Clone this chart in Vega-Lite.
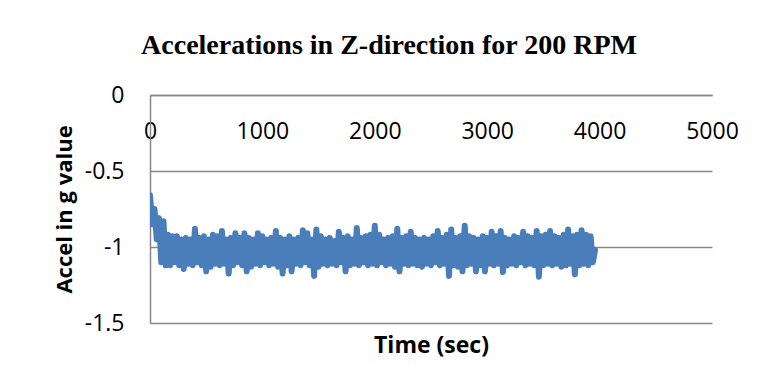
{
  "$schema": "https://vega.github.io/schema/vega-lite/v6.json",
  "width": 562,
  "height": 228,
  "autosize": "none",
  "padding": {"left": 150, "top": 95, "right": 46, "bottom": 66},
  "background": "white",
  "config": {"view": {"stroke": null}},
  "title": {
    "text": "Accelerations in Z-direction for 200 RPM",
    "font": "Liberation Serif",
    "fontSize": 28,
    "fontWeight": "bold",
    "color": "#000000",
    "anchor": "middle",
    "frame": "group",
    "dx": -42,
    "offset": 24
  },
  "data": {
    "values": [
      {"t": 0, "a": -0.66}, {"t": 20, "a": -0.85}, {"t": 40, "a": -0.75}, {"t": 60, "a": -0.95}, {"t": 80, "a": -0.81}, {"t": 100, "a": -1.10}, {"t": 120, "a": -0.83}, {"t": 140, "a": -1.12}, {"t": 160, "a": -0.92}, {"t": 180, "a": -1.12},
      {"t": 200, "a": -0.93}, {"t": 220, "a": -1.10}, {"t": 240, "a": -0.93}, {"t": 260, "a": -1.12}, {"t": 280, "a": -0.95}, {"t": 300, "a": -1.145}, {"t": 320, "a": -0.94}, {"t": 340, "a": -1.11}, {"t": 360, "a": -0.95}, {"t": 380, "a": -1.12},
      {"t": 400, "a": -0.88}, {"t": 420, "a": -1.10}, {"t": 440, "a": -0.94}, {"t": 460, "a": -1.12}, {"t": 480, "a": -0.93}, {"t": 500, "a": -1.16}, {"t": 520, "a": -0.95}, {"t": 540, "a": -1.13}, {"t": 560, "a": -0.92}, {"t": 580, "a": -1.11},
      {"t": 600, "a": -0.93}, {"t": 620, "a": -1.12}, {"t": 640, "a": -0.895}, {"t": 660, "a": -1.11}, {"t": 680, "a": -0.95}, {"t": 700, "a": -1.175}, {"t": 720, "a": -0.94}, {"t": 740, "a": -1.12}, {"t": 760, "a": -0.91}, {"t": 780, "a": -1.10},
      {"t": 800, "a": -0.94}, {"t": 820, "a": -1.12}, {"t": 840, "a": -0.91}, {"t": 860, "a": -1.16}, {"t": 880, "a": -0.94}, {"t": 900, "a": -1.13}, {"t": 920, "a": -0.95}, {"t": 940, "a": -1.11}, {"t": 960, "a": -0.91}, {"t": 980, "a": -1.12},
      {"t": 1000, "a": -0.93}, {"t": 1020, "a": -1.10}, {"t": 1040, "a": -0.95}, {"t": 1060, "a": -1.12}, {"t": 1080, "a": -0.94}, {"t": 1100, "a": -1.11}, {"t": 1120, "a": -0.895}, {"t": 1140, "a": -1.13}, {"t": 1160, "a": -0.94}, {"t": 1180, "a": -1.175},
      {"t": 1200, "a": -0.95}, {"t": 1220, "a": -1.12}, {"t": 1240, "a": -0.93}, {"t": 1260, "a": -1.16}, {"t": 1280, "a": -0.95}, {"t": 1300, "a": -1.11}, {"t": 1320, "a": -0.94}, {"t": 1340, "a": -1.12}, {"t": 1360, "a": -0.89}, {"t": 1380, "a": -1.10},
      {"t": 1400, "a": -0.91}, {"t": 1420, "a": -1.12}, {"t": 1440, "a": -0.95}, {"t": 1460, "a": -1.19}, {"t": 1480, "a": -0.885}, {"t": 1500, "a": -1.13}, {"t": 1520, "a": -0.93}, {"t": 1540, "a": -1.11}, {"t": 1560, "a": -0.95}, {"t": 1580, "a": -1.12},
      {"t": 1600, "a": -0.94}, {"t": 1620, "a": -1.11}, {"t": 1640, "a": -0.96}, {"t": 1660, "a": -1.12}, {"t": 1680, "a": -0.90}, {"t": 1700, "a": -1.10}, {"t": 1720, "a": -0.94}, {"t": 1740, "a": -1.16}, {"t": 1760, "a": -0.93}, {"t": 1780, "a": -1.12},
      {"t": 1800, "a": -0.95}, {"t": 1820, "a": -1.11}, {"t": 1840, "a": -0.875}, {"t": 1860, "a": -1.12}, {"t": 1880, "a": -0.94}, {"t": 1900, "a": -1.10}, {"t": 1920, "a": -0.93}, {"t": 1940, "a": -1.12}, {"t": 1960, "a": -0.92}, {"t": 1980, "a": -1.11},
      {"t": 2000, "a": -0.86}, {"t": 2020, "a": -1.12}, {"t": 2040, "a": -0.92}, {"t": 2060, "a": -1.10}, {"t": 2080, "a": -0.95}, {"t": 2100, "a": -1.12}, {"t": 2120, "a": -0.94}, {"t": 2140, "a": -1.11}, {"t": 2160, "a": -0.93}, {"t": 2180, "a": -1.13},
      {"t": 2200, "a": -0.88}, {"t": 2220, "a": -1.16}, {"t": 2240, "a": -0.94}, {"t": 2260, "a": -1.11}, {"t": 2280, "a": -0.93}, {"t": 2300, "a": -1.12}, {"t": 2320, "a": -0.90}, {"t": 2340, "a": -1.11}, {"t": 2360, "a": -0.94}, {"t": 2380, "a": -1.12},
      {"t": 2400, "a": -0.95}, {"t": 2420, "a": -1.13}, {"t": 2440, "a": -0.94}, {"t": 2460, "a": -1.11}, {"t": 2480, "a": -0.95}, {"t": 2500, "a": -1.12}, {"t": 2520, "a": -0.93}, {"t": 2540, "a": -1.10}, {"t": 2560, "a": -0.895}, {"t": 2580, "a": -1.12},
      {"t": 2600, "a": -0.94}, {"t": 2620, "a": -1.11}, {"t": 2640, "a": -0.92}, {"t": 2660, "a": -1.19}, {"t": 2680, "a": -0.885}, {"t": 2700, "a": -1.12}, {"t": 2720, "a": -0.94}, {"t": 2740, "a": -1.13}, {"t": 2760, "a": -0.93}, {"t": 2780, "a": -1.16},
      {"t": 2800, "a": -0.86}, {"t": 2820, "a": -1.12}, {"t": 2840, "a": -0.93}, {"t": 2860, "a": -1.11}, {"t": 2880, "a": -0.94}, {"t": 2900, "a": -1.16}, {"t": 2920, "a": -0.95}, {"t": 2940, "a": -1.12}, {"t": 2960, "a": -0.93}, {"t": 2980, "a": -1.16},
      {"t": 3000, "a": -0.94}, {"t": 3020, "a": -1.11}, {"t": 3040, "a": -0.90}, {"t": 3060, "a": -1.12}, {"t": 3080, "a": -0.93}, {"t": 3100, "a": -1.11}, {"t": 3120, "a": -0.895}, {"t": 3140, "a": -1.165}, {"t": 3160, "a": -0.94}, {"t": 3180, "a": -1.12},
      {"t": 3200, "a": -0.95}, {"t": 3220, "a": -1.11}, {"t": 3240, "a": -0.93}, {"t": 3260, "a": -1.12}, {"t": 3280, "a": -0.94}, {"t": 3300, "a": -1.10}, {"t": 3320, "a": -0.90}, {"t": 3340, "a": -1.12}, {"t": 3360, "a": -0.93}, {"t": 3380, "a": -1.11},
      {"t": 3400, "a": -0.94}, {"t": 3420, "a": -1.12}, {"t": 3440, "a": -0.895}, {"t": 3460, "a": -1.195}, {"t": 3480, "a": -0.93}, {"t": 3500, "a": -1.12}, {"t": 3520, "a": -0.92}, {"t": 3540, "a": -1.11}, {"t": 3560, "a": -0.895}, {"t": 3580, "a": -1.12},
      {"t": 3600, "a": -0.93}, {"t": 3620, "a": -1.11}, {"t": 3640, "a": -0.94}, {"t": 3660, "a": -1.13}, {"t": 3680, "a": -0.92}, {"t": 3700, "a": -1.12}, {"t": 3720, "a": -0.885}, {"t": 3740, "a": -1.11}, {"t": 3760, "a": -0.93}, {"t": 3780, "a": -1.18},
      {"t": 3800, "a": -0.92}, {"t": 3820, "a": -1.12}, {"t": 3840, "a": -0.89}, {"t": 3860, "a": -1.11}, {"t": 3880, "a": -0.92}, {"t": 3900, "a": -1.12}, {"t": 3920, "a": -0.93}, {"t": 3940, "a": -1.10}, {"t": 3960, "a": -1.02}
    ]
  },
  "mark": {"type": "line", "color": "#4A7EBB", "strokeWidth": 6, "strokeCap": "round", "strokeJoin": "round", "clip": true},
  "encoding": {
    "x": {
      "field": "t",
      "type": "quantitative",
      "scale": {"domain": [0, 5000], "nice": false, "zero": false},
      "axis": {
        "orient": "bottom",
        "offset": -228,
        "values": [0, 1000, 2000, 3000, 4000, 5000],
        "format": "d",
        "title": "Time (sec)",
        "titleFont": "Open Sans",
        "titleFontSize": 23,
        "titleFontWeight": "bold",
        "titleColor": "#000000",
        "titleBaseline": "middle",
        "titleY": 250,
        "grid": false,
        "domain": true,
        "domainColor": "#878787",
        "domainWidth": 1.5,
        "ticks": false,
        "labelFont": "Open Sans",
        "labelFontSize": 23,
        "labelColor": "#000000",
        "labelBaseline": "middle",
        "labelPadding": 36,
        "labelFlush": false,
        "labelOverlap": false
      }
    },
    "y": {
      "field": "a",
      "type": "quantitative",
      "scale": {"domain": [-1.5, 0], "nice": false, "zero": false},
      "axis": {
        "values": [0, -0.5, -1, -1.5],
        "labelExpr": "datum.value == 0 ? '0' : '-' + format(-datum.value, '~g')",
        "title": "Accel in g value",
        "titleFont": "Open Sans",
        "titleFontSize": 22,
        "titleFontWeight": "bold",
        "titleColor": "#000000",
        "titlePadding": 8,
        "grid": true,
        "gridColor": "#878787",
        "gridWidth": 1.5,
        "domain": true,
        "domainColor": "#878787",
        "domainWidth": 1.5,
        "ticks": false,
        "labelFont": "Open Sans",
        "labelFontSize": 23,
        "labelColor": "#000000",
        "labelPadding": 26,
        "labelFlush": false,
        "labelOverlap": false
      }
    }
  }
}
